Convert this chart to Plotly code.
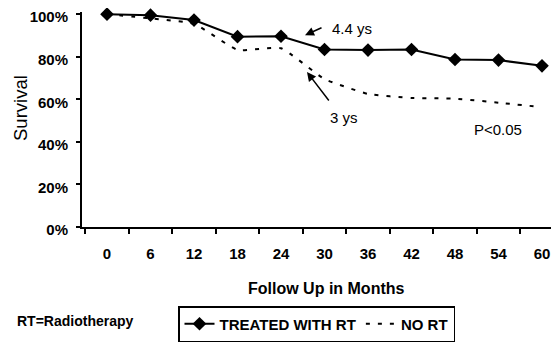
import plotly.graph_objects as go

months = [0, 6, 12, 18, 24, 30, 36, 42, 48, 54, 60]
month_labels = ["0", "6", "12", "18", "24", "30", "36", "42", "48", "54", "60"]
treated_rt = [100, 99.5, 97.2, 89.4, 89.6, 83.4, 83.1, 83.4, 78.7, 78.4, 75.7]
no_rt = [100, 98, 95.5, 83.2, 84, 69.5, 62.5, 60.6, 60.3, 58.4, 56.3]
y_ticks = [0, 20, 40, 60, 80, 100]
y_tick_labels = ["0%", "20%", "40%", "60%", "80%", "100%"]

FONT = "Liberation Sans, Arial, sans-serif"
# page body has an 8px margin; figure is laid out in page coords minus 8
OFF = 8
W, H = 559 - OFF, 344 - OFF

fig = go.Figure()
fig.add_trace(go.Scatter(
    x=month_labels, y=treated_rt, name="TREATED WITH RT", mode="lines+markers",
    line=dict(color="black", width=2),
    marker=dict(symbol="diamond", size=10.5, color="black"),
    cliponaxis=False,
))
fig.add_trace(go.Scatter(
    x=month_labels, y=no_rt, name="NO RT", mode="lines",
    line=dict(color="black", width=2, dash="4px,8px", shape="spline", smoothing=0.4),
))

# plot area in page pixels
PL, PR, PT, PB = 82, 557, 12, 227
L, R, T, B = PL - OFF, PR - OFF, PT - OFF, PB - OFF
PW, PH = PR - PL, PB - PT

def px(xp):
    return (xp - PL) / PW

def py(yp):
    return (PB - yp) / PH

fig.update_layout(
    width=W, height=H,
    margin=dict(l=L, r=W - R, t=T, b=H - B, autoexpand=False),
    paper_bgcolor="white", plot_bgcolor="white",
    font=dict(family=FONT, color="black"),
    xaxis=dict(
        type="category", range=[-0.575, 10.345], tickson="boundaries",
        ticks="outside", ticklen=5, tickwidth=1.5, tickcolor="black",
        showline=True, linewidth=2, linecolor="black",
        showgrid=False, zeroline=False, automargin=False,
        tickfont=dict(family=FONT, size=15, weight="bold"),
        ticklabelstandoff=12,
    ),
    yaxis=dict(
        range=[0, 101], tickvals=y_ticks, ticktext=y_tick_labels,
        ticks="outside", ticklen=4, tickwidth=1.5, tickcolor="black",
        showline=True, linewidth=2, linecolor="black",
        showgrid=False, zeroline=False, automargin=False,
        tickfont=dict(family=FONT, size=15, weight="bold"),
        ticklabelstandoff=5, ticklabeloverflow="allow", ticklabelshift=3,
    ),
    legend=dict(
        orientation="h", xref="container", yref="container",
        x=(178 - OFF) / W, y=1 - (306 - OFF) / H, xanchor="left", yanchor="top",
        bordercolor="black", borderwidth=1.5, bgcolor="white",
        font=dict(family=FONT, size=15, weight="bold"),
        tracegroupgap=0,
    ),
    showlegend=True,
)

ann_font = dict(family=FONT, size=15, color="black")
fig.add_annotation(x=4.552, y=90.1, ax=4.966, ay=93.9, axref="x", ayref="y",
                   text="", showarrow=True, arrowhead=2, arrowwidth=1.5, arrowsize=1.2,
                   arrowcolor="black")
fig.add_annotation(x=5.126, y=93.4, text="4.4 ys", showarrow=False,
                   xanchor="left", yanchor="middle", font=ann_font)
fig.add_annotation(x=4.598, y=72.8, ax=5.126, ay=58.7, axref="x", ayref="y",
                   text="", showarrow=True, arrowhead=2, arrowwidth=1.5, arrowsize=1.2,
                   arrowcolor="black")
fig.add_annotation(x=5.448, y=51.6, text="3 ys", showarrow=False,
                   xanchor="center", yanchor="middle", font=ann_font)
fig.add_annotation(x=8.39, y=46, text="P<0.05", showarrow=False,
                   xanchor="left", yanchor="middle", font=ann_font)
fig.add_annotation(xref="paper", yref="paper", x=px(326), y=py(288),
                   text="Follow Up in Months", showarrow=False,
                   xanchor="center", yanchor="middle",
                   font=dict(family=FONT, size=16, weight="bold"))
fig.add_annotation(xref="paper", yref="paper", x=px(20), y=py(108),
                   text="Survival", showarrow=False, textangle=-90,
                   xanchor="center", yanchor="middle",
                   font=dict(family=FONT, size=18.5))
fig.add_annotation(xref="paper", yref="paper", x=px(15), y=py(321),
                   text="RT=Radiotherapy", showarrow=False,
                   xanchor="left", yanchor="middle",
                   font=dict(family=FONT, size=14, weight="bold"))

fig.write_html("out.html")
